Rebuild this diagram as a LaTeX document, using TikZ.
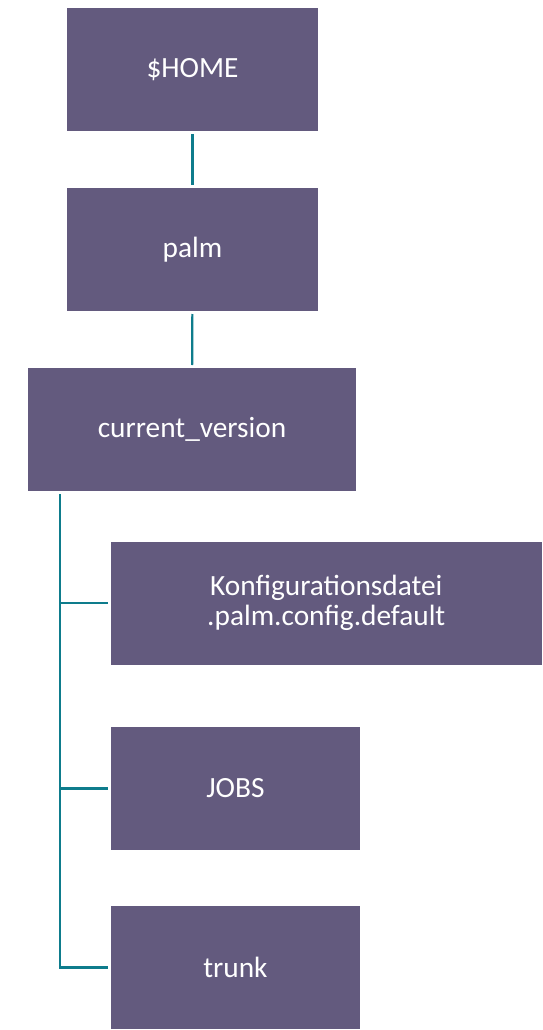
\documentclass[tikz,border=0pt]{standalone}
\usepackage{fontspec}
\setmainfont{Carlito}
\definecolor{boxpurple}{RGB}{99,90,126}
\definecolor{lineteal}{RGB}{14,124,140}

\begin{document}
\begin{tikzpicture}[x=0.75pt, y=-0.75pt,
		dir/.style={fill=boxpurple, text=white, font=\fontsize{22}{22.5}\selectfont, align=center, inner sep=0pt, outer sep=2.25pt, minimum height=92.25pt},
		link/.style={draw=lineteal, line width=1.6pt}]
			
			\useasboundingbox (0,0) rectangle (542,1030);
			\node[dir, minimum width=188.25pt] (home) at (192.5,69.5) {\$HOME};
			\node[dir, minimum width=188.25pt] (palm) at (192.5,249.5) {palm};
			\node[dir, minimum width=246pt] (cv) at (192,429.5) {current\_version};
			\node[dir, minimum width=323.25pt] (conf) at (326.3,603) {Konfigurationsdatei\\.palm.config.default};
			\node[dir, minimum width=186.75pt] (jobs) at (235.4,788.5) {JOBS};
			\node[dir, minimum width=186.75pt] (trunk) at (235.4,967.5) {trunk};
			\coordinate (stem) at ([xshift=26.25pt]cv.south west);
			\draw[link] (home) -- (palm);
			\draw[link] (palm) -- (cv);
			\draw[link] (stem) |- (trunk.west);
			\foreach \n in {conf,jobs} {\draw[link] (stem |- \n.west) -- (\n.west);}
		\end{tikzpicture}
\end{document}
